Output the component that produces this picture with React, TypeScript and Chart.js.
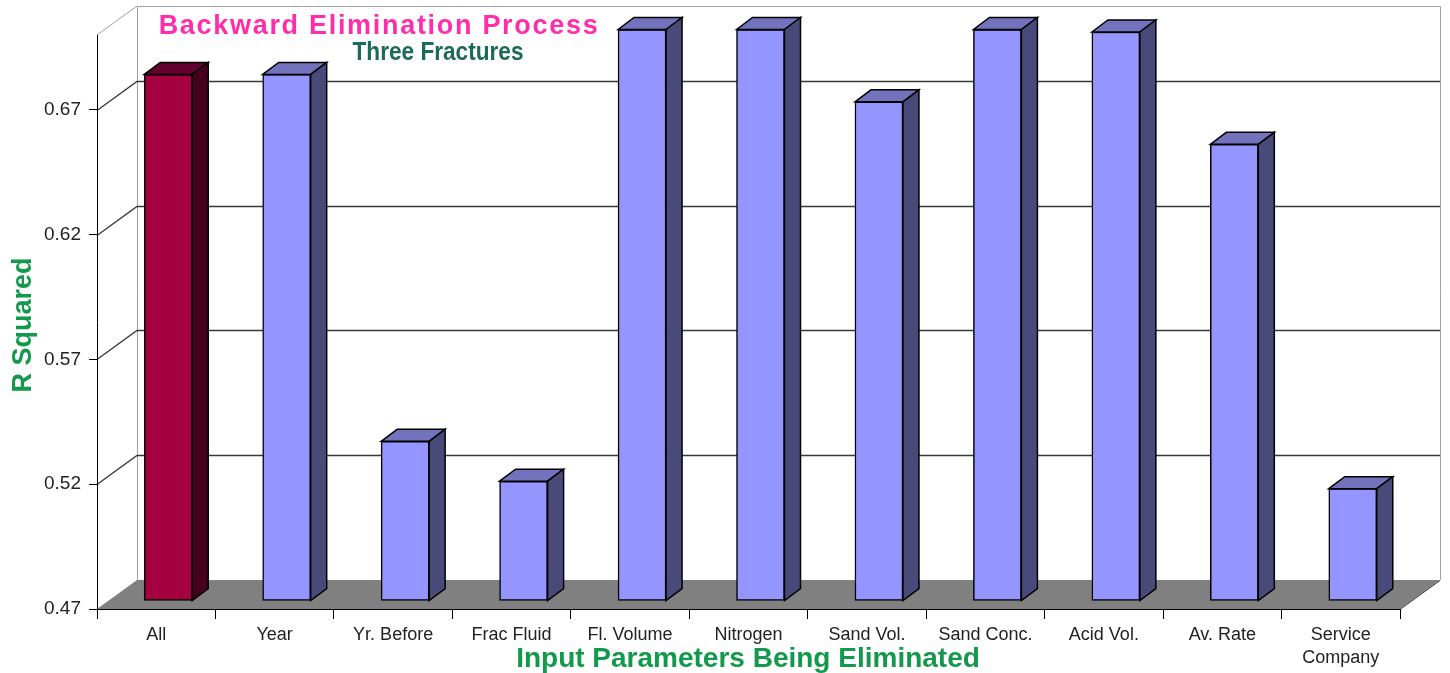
import React, { useEffect, useRef } from 'react';
import { Chart, registerables } from 'chart.js';

Chart.register(...registerables);

// Eliminated input parameter for each model run
const categories: (string | string[])[] = [
  'All',
  'Year',
  'Yr. Before',
  'Frac Fluid',
  'Fl. Volume',
  'Nitrogen',
  'Sand Vol.',
  'Sand Conc.',
  'Acid Vol.',
  'Av. Rate',
  ['Service', 'Company'],
];

// R squared of the model after removing each parameter
const rSquared = [0.681, 0.681, 0.534, 0.518, 0.699, 0.699, 0.670, 0.699, 0.698, 0.653, 0.515];

const yTicks = [0.47, 0.52, 0.57, 0.62, 0.67];
const yMin = 0.47;
const yMax = 0.70;

const FONT = '"Liberation Sans", Arial, Helvetica, sans-serif';

// 3D frame depth (back wall offset) and bar depth
const WALL_DX = 40;
const WALL_DY = 29;
const BAR_SHIFT_X = 12;
const BAR_SHIFT_Y = -8;
const BAR_DX = 16;
const BAR_DY = 12;

const FRONT_COLORS = { base: '#A50040', other: '#9595FF' };
const TOP_COLORS = { base: '#64002E', other: '#7272BD' };
const SIDE_COLORS = { base: '#46001E', other: '#4A4A7A' };

const framePlugin = {
  id: 'frame3d',
  beforeDraw(chart: any) {
    const { ctx, chartArea: a, scales } = chart;
    const y = scales.y;
    const bx0 = a.left + WALL_DX;
    const bx1 = a.right + WALL_DX;
    const byTop = a.top - WALL_DY;
    const byBot = a.bottom - WALL_DY;
    ctx.save();
    ctx.fillStyle = '#ffffff';
    ctx.fillRect(0, 0, chart.width, chart.height);

    // floor
    ctx.fillStyle = '#808080';
    ctx.beginPath();
    ctx.moveTo(a.left, a.bottom);
    ctx.lineTo(a.right, a.bottom);
    ctx.lineTo(bx1, byBot);
    ctx.lineTo(bx0, byBot);
    ctx.closePath();
    ctx.fill();

    // back wall outline and left wall top edge
    ctx.strokeStyle = '#a0a0a0';
    ctx.lineWidth = 1;
    ctx.beginPath();
    ctx.moveTo(bx0 + 0.5, byBot);
    ctx.lineTo(bx0 + 0.5, byTop + 0.5);
    ctx.lineTo(bx1 + 0.5, byTop + 0.5);
    ctx.lineTo(bx1 + 0.5, byBot);
    ctx.stroke();
    ctx.beginPath();
    ctx.moveTo(a.left, a.top);
    ctx.lineTo(bx0, byTop);
    ctx.stroke();

    // gridlines across the left wall and back wall
    ctx.strokeStyle = '#383838';
    ctx.lineWidth = 1.3;
    for (const v of yTicks) {
      if (v === yMin) continue;
      const py = Math.round(y.getPixelForValue(v)) + 0.5;
      ctx.beginPath();
      ctx.moveTo(a.left, py);
      ctx.lineTo(bx0, py - WALL_DY);
      ctx.lineTo(bx1, py - WALL_DY);
      ctx.stroke();
    }

    // floor right edge
    ctx.lineWidth = 1;
    ctx.beginPath();
    ctx.moveTo(a.right, a.bottom + 0.5);
    ctx.lineTo(bx1, byBot + 0.5);
    ctx.stroke();
    ctx.restore();
  },
  beforeDatasetsDraw(chart: any) {
    chart.ctx.save();
    chart.ctx.translate(BAR_SHIFT_X, BAR_SHIFT_Y);
  },
  afterDatasetsDraw(chart: any) {
    const ctx = chart.ctx;
    const meta = chart.getDatasetMeta(0);
    ctx.lineWidth = 1.5;
    ctx.strokeStyle = '#000000';
    ctx.lineJoin = 'miter';
    meta.data.forEach((bar: any, i: number) => {
      const { x, y, base, width } = bar.getProps(['x', 'y', 'base', 'width'], true);
      const l = x - width / 2;
      const r = x + width / 2;
      const key = i === 0 ? 'base' : 'other';
      // top face
      ctx.fillStyle = (TOP_COLORS as any)[key];
      ctx.beginPath();
      ctx.moveTo(l, y);
      ctx.lineTo(l + BAR_DX, y - BAR_DY);
      ctx.lineTo(r + BAR_DX, y - BAR_DY);
      ctx.lineTo(r, y);
      ctx.closePath();
      ctx.fill();
      ctx.stroke();
      // side face
      ctx.fillStyle = (SIDE_COLORS as any)[key];
      ctx.beginPath();
      ctx.moveTo(r, y);
      ctx.lineTo(r + BAR_DX, y - BAR_DY);
      ctx.lineTo(r + BAR_DX, base - BAR_DY);
      ctx.lineTo(r, base);
      ctx.closePath();
      ctx.fill();
      ctx.stroke();
    });
    ctx.restore();
  },
  afterDraw(chart: any) {
    const ctx = chart.ctx;
    ctx.save();
    ctx.textAlign = 'center';
    ctx.textBaseline = 'alphabetic';

    ctx.fillStyle = '#FF2DAA';
    ctx.font = `bold 27px ${FONT}`;
    (ctx as any).letterSpacing = '1.7px';
    ctx.fillText('Backward Elimination Process', 379, 34);
    (ctx as any).letterSpacing = '0px';

    // condensed subtitle
    ctx.save();
    ctx.fillStyle = '#1D6A58';
    ctx.font = `bold 26px ${FONT}`;
    ctx.translate(438, 60);
    ctx.scale(0.87, 1);
    ctx.fillText('Three Fractures', 0, 0);
    ctx.restore();

    ctx.fillStyle = '#13994B';
    ctx.font = `bold 28px ${FONT}`;
    ctx.fillText('Input Parameters Being Eliminated', 748, 667);

    ctx.translate(31, 325);
    ctx.rotate(-Math.PI / 2);
    ctx.font = `bold 27px ${FONT}`;
    ctx.fillText('R Squared', 0, 0);
    ctx.restore();
  },
};

export default function App() {
  const canvasRef = useRef<HTMLCanvasElement | null>(null);

  useEffect(() => {
    const canvas = canvasRef.current;
    if (!canvas) return;
    const chart = new Chart(canvas, {
      type: 'bar',
      data: {
        labels: categories as any,
        datasets: [
          {
            data: rSquared,
            base: yMin,
            backgroundColor: rSquared.map((_, i) => (i === 0 ? FRONT_COLORS.base : FRONT_COLORS.other)),
            borderColor: '#000000',
            borderWidth: 1.5,
            borderSkipped: false,
            barThickness: 48,
            clip: false as any,
          } as any,
        ],
      },
      options: {
        responsive: false,
        animation: false,
        layout: { padding: { top: 35, right: 50, left: 0, bottom: 0 } },
        plugins: {
          legend: { display: false },
          tooltip: { enabled: false },
          title: { display: false },
        },
        scales: {
          x: {
            offset: true,
            grid: { offset: true, drawOnChartArea: false, tickLength: 10, color: '#000000' },
            border: { display: true, color: '#000000' },
            ticks: {
              font: { size: 18, family: FONT, lineHeight: 1.25 },
              color: '#222222',
              padding: 5,
              maxRotation: 0,
              autoSkip: false,
            },
            afterFit: (s: any) => {
              s.height = 64;
            },
          },
          y: {
            min: yMin,
            max: yMax,
            afterBuildTicks: (s: any) => {
              s.ticks = yTicks.map((v) => ({ value: v }));
            },
            afterFit: (s: any) => {
              s.width = 97;
            },
            grid: { drawOnChartArea: false, tickLength: 8, color: '#000000' },
            border: { display: true, color: '#000000' },
            ticks: {
              font: { size: 19, family: FONT },
              color: '#222222',
              padding: 8,
              callback: (v: any) => Number(v).toFixed(2),
            },
          },
        },
      },
      plugins: [framePlugin],
    });
    return () => chart.destroy();
  }, []);

  return (
    <div style={{ position: 'absolute', left: 0, top: 0, width: 1450, height: 673 }}>
      <canvas ref={canvasRef} width={1450} height={673} />
    </div>
  );
}
